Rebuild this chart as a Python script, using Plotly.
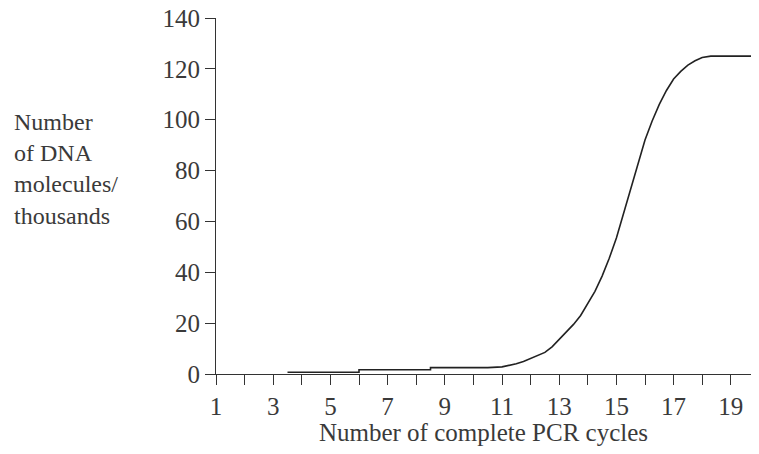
import plotly.graph_objects as go

# Data
cycles = [3.5, 6.0, 6.0, 8.5, 8.5, 10.5, 11.0, 11.25, 11.5, 11.75, 12.0, 12.25, 12.5,
          12.75, 13.0, 13.25, 13.5, 13.75, 14.0, 14.25, 14.5, 14.75, 15.0, 15.25,
          15.5, 15.75, 16.0, 16.25, 16.5, 16.75, 17.0, 17.25, 17.5, 17.75, 18.0,
          18.3, 20.0]
molecules_thousands = [0.7, 0.7, 1.7, 1.7, 2.5, 2.5, 2.8, 3.3, 4.0, 4.9, 6.0, 7.2, 8.5,
                       10.7, 13.5, 16.3, 19.5, 23.0, 27.5, 32.5, 38.5, 45.5, 53.5, 63.0,
                       73.0, 83.0, 92.0, 99.5, 106.0, 111.5, 116.0, 119.0, 121.5, 123.2, 124.5,
                       125.0, 125.0]
x_tick_vals = [1, 3, 5, 7, 9, 11, 13, 15, 17, 19]
y_tick_vals = [0, 20, 40, 60, 80, 100, 120, 140]

# the page body has an 8px margin on every side; keep the figure inside the window
OFF = 8
W, H = 759 - 2 * OFF, 454 - 2 * OFF
L, R, T, B = 216 - OFF, 0, 18 - OFF, (H + OFF) - 374
PX_PER_CYCLE = 28.6
X_MAX = 1 + (W - L - R) / PX_PER_CYCLE
FONT = "Liberation Serif"
TXT = "#3a3a3a"
AX = "#333333"

fig = go.Figure()
fig.add_trace(go.Scatter(
    x=cycles, y=molecules_thousands, mode="lines",
    line=dict(color="#222222", width=1.6),
    hoverinfo="skip", showlegend=False, cliponaxis=False,
))

fig.update_layout(
    width=W, height=H,
    margin=dict(l=L, r=R, t=T, b=B, autoexpand=False),
    paper_bgcolor="white", plot_bgcolor="white",
    font=dict(family=FONT, size=25, color=TXT),
    xaxis=dict(
        range=[1, X_MAX], showgrid=False, zeroline=False, automargin=False,
        showline=True, linecolor=AX, linewidth=1,
        tickmode="array", tickvals=x_tick_vals,
        ticks="outside", ticklen=10, tickcolor=AX, tickwidth=1,
        minor=dict(tick0=1, dtick=1, ticks="outside", ticklen=10, tickcolor=AX, tickwidth=1),
        tickfont=dict(family=FONT, size=25, color=TXT),
        ticklabeloverflow="allow",
        title=dict(text="Number of complete PCR cycles", standoff=4,
                   font=dict(family=FONT, size=25, color=TXT)),
    ),
    yaxis=dict(
        range=[0, 140], showgrid=False, zeroline=False, automargin=False,
        showline=True, linecolor=AX, linewidth=1,
        tickmode="array", tickvals=y_tick_vals,
        ticks="outside", ticklen=10, tickcolor=AX, tickwidth=1,
        tickfont=dict(family=FONT, size=25, color=TXT),
        ticklabeloverflow="allow",
    ),
)

plot_w = W - L - R
plot_h = H - T - B
fig.add_annotation(
    text="Number<br>of DNA<br>molecules/<br>thousands",
    xref="paper", yref="paper",
    x=(12 - 216) / plot_w, y=(374 - 169) / plot_h,
    xanchor="left", yanchor="middle", align="left", showarrow=False,
    font=dict(family=FONT, size=24, color=TXT),
)

fig.write_html("out.html")
